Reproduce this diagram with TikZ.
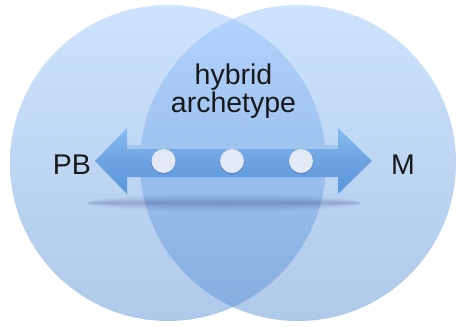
\documentclass[tikz,border=0pt]{standalone}
\usepackage{fontspec}
\setmainfont{Liberation Sans}

\definecolor{ringtop}{RGB}{150,195,252}
\definecolor{ringbot}{RGB}{85,140,210}
\definecolor{axistop}{RGB}{135,188,240}
\definecolor{axisbot}{RGB}{92,152,220}
\definecolor{dotfill}{RGB}{226,233,245}
\definecolor{inkgray}{RGB}{25,25,25}

\begin{document}
\begin{tikzpicture}[x=1pt, y=-1pt,
  ring/.style={circle, inner sep=0pt, minimum size=316pt, top color=ringtop, bottom color=ringbot, opacity=0.47},
  stop/.style={circle, inner sep=0pt, minimum size=24pt, fill=dotfill},
  word/.style={text=inkgray, font=\fontsize{28.5}{31}\selectfont, align=center}]
\useasboundingbox (0,0) rectangle (459,327);
\node[ring] (pb ring) at (168,163) {};
\node[ring] (m ring) at (298,163) {};
% shadow under the arrow
\foreach \h/\o in {9/0.03, 7/0.035, 5/0.045, 3/0.05, 1.5/0.05}
  \fill[black!70!blue, opacity=\o] (224,203) ellipse (137 and \h);
% the double arrow
\shade[top color=axistop, bottom color=axisbot, middle color=axisbot!90!white]
  (95,161) -- (127,128) -- (127,145) -- (338,145) -- (338,128) -- (372,161)
  -- (338,194) -- (338,177) -- (127,177) -- (127,194) -- cycle;
\fill[white, opacity=0.3] (127,145) rectangle (338,149);
\foreach \x/\n in {163.5/d1, 232/d2, 301/d3} {
  \fill[black!60!blue, opacity=0.12] (\x,162) circle (12.5);
  \node[stop] (\n) at (\x,161) {};
}
\node[word] (hybrid) at (233.5,91) {hybrid\\[-3pt]archetype};
\node[word] (pb) at (72,165) {PB};
\node[word] (m) at (403,165) {M};
\end{tikzpicture}
\end{document}
